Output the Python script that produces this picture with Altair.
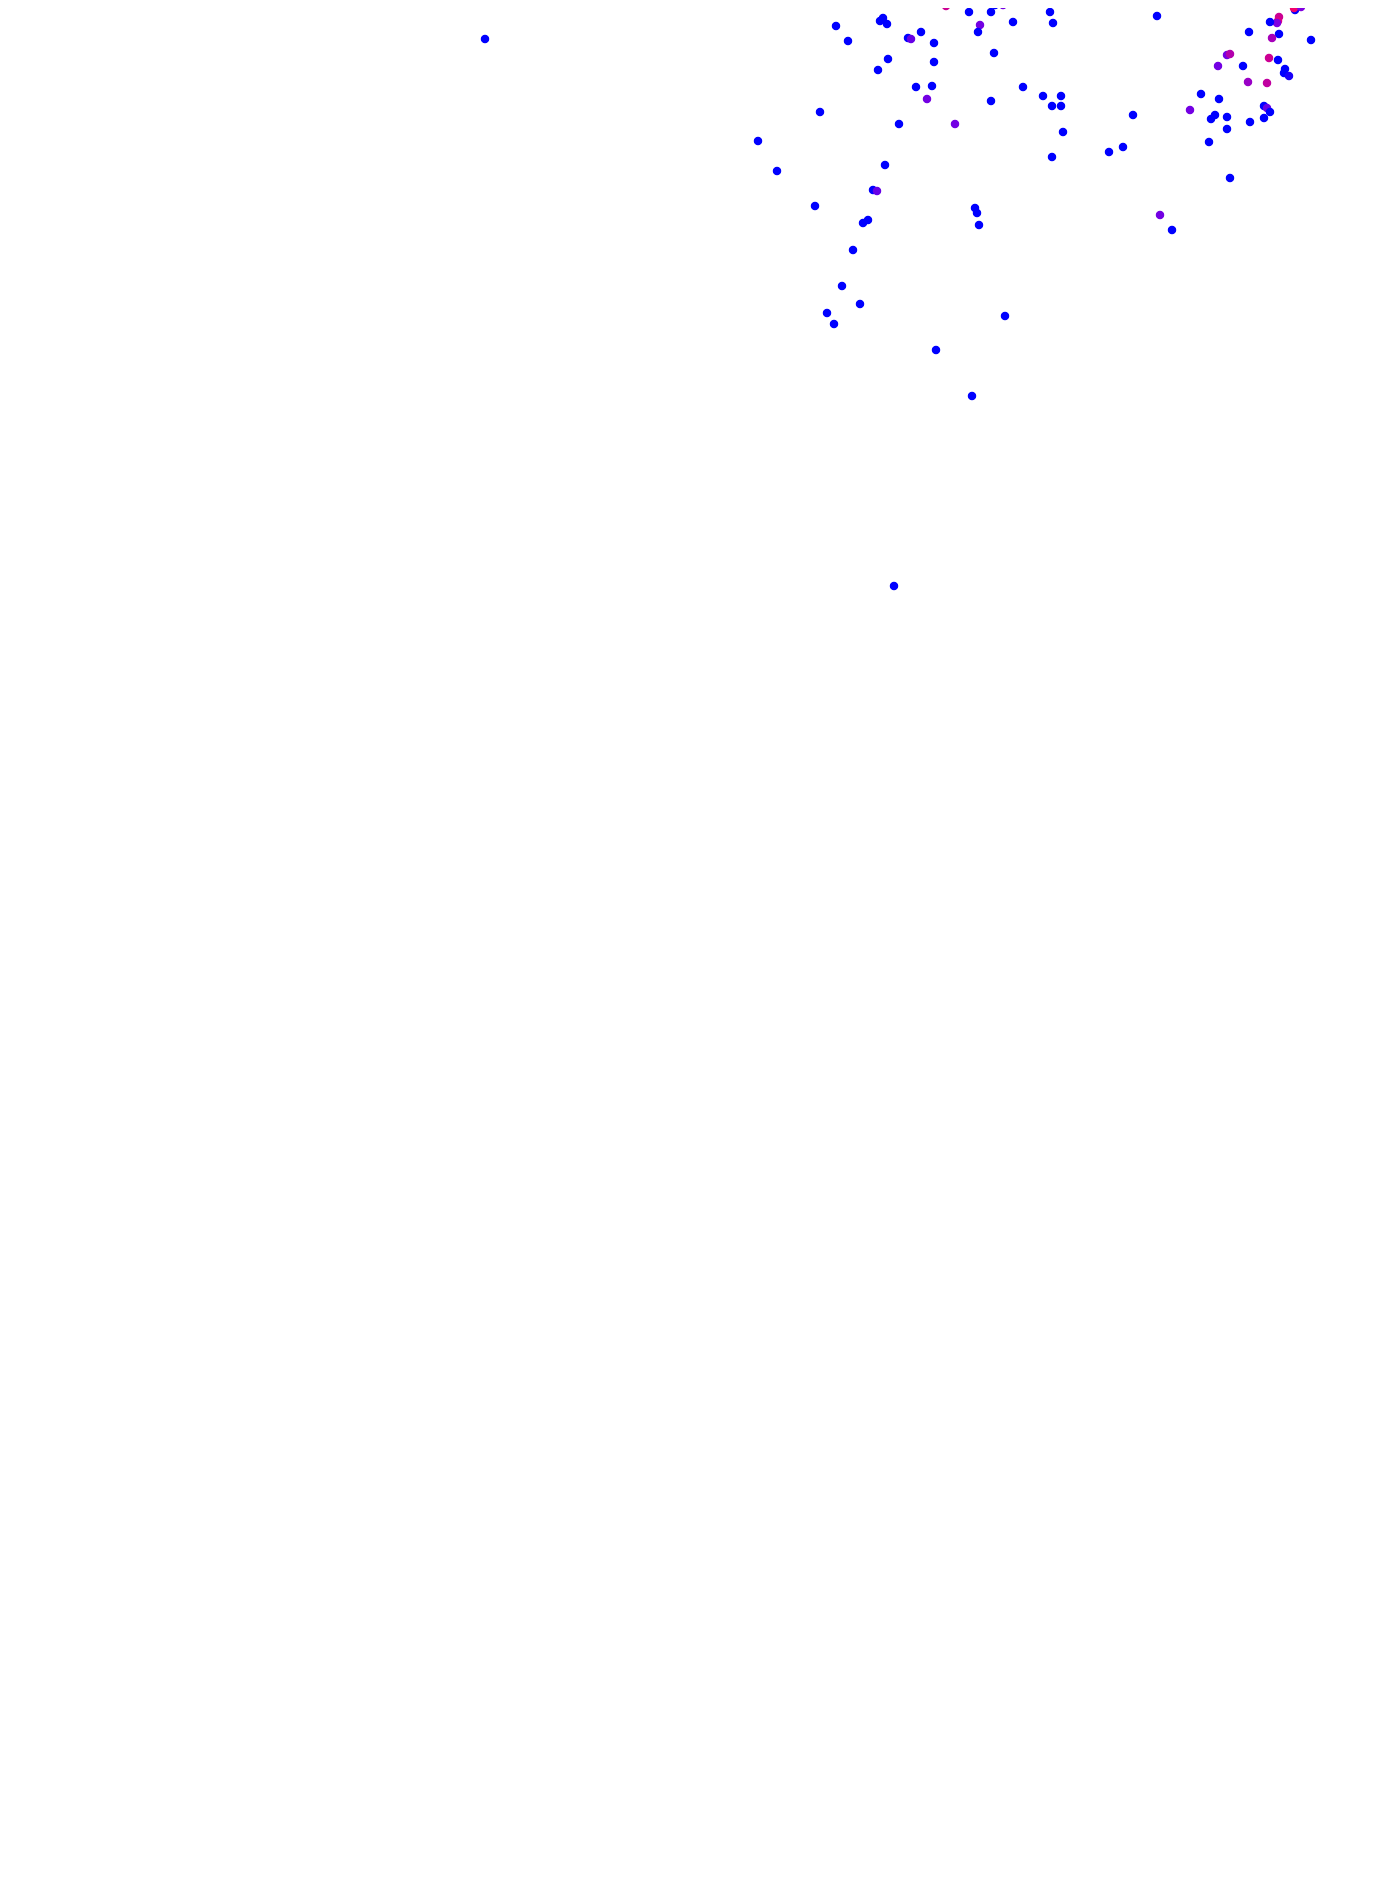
import altair as alt
import pandas as pd

# Point positions (horizontal / vertical coordinate) and colour value
xs = [878, 882, 904, 946, 969, 995, 1003, 991, 980, 978, 1013, 1050, 1053,
      836, 848, 883, 880, 887, 921, 908, 911, 934, 888, 878, 934, 916, 932, 927,
      820, 899, 994, 1023, 1043, 1061, 1052, 1061, 991, 955, 1063, 1157, 1133, 1190,
      1295, 1294, 1301, 1279, 1278, 1277, 1270, 1279, 1249, 1272, 1311, 1227, 1230,
      1269, 1278, 1218, 1243, 1285, 1284, 1289, 1248, 1267, 1201, 1219, 1264, 1267,
      1270, 1215, 1211, 1227, 1250, 1264, 1227, 1209,
      758, 777, 815, 885, 873, 877, 868, 863, 853, 842, 860, 827, 834, 975, 977, 979,
      936, 1005, 972, 1052, 1109, 1123, 1230, 1160, 1172, 894, 485]
ys = [1, 3, 3, 6, 12, 5, 5, 12, 25, 32, 22, 12, 23,
      26, 41, 18, 21, 24, 32, 38, 39, 43, 59, 70, 62, 87, 86, 99,
      112, 124, 53, 87, 96, 96, 106, 106, 101, 124, 132, 16, 115, 110,
      10, 8, 7, 17, 21, 23, 22, 34, 32, 38, 40, 55, 54,
      58, 60, 66, 66, 69, 73, 76, 82, 83, 94, 99, 106, 108,
      112, 115, 119, 117, 122, 118, 129, 142,
      141, 171, 206, 165, 190, 191, 220, 223, 250, 286, 304, 313, 324, 208, 213, 225,
      350, 316, 396, 157, 152, 147, 178, 215, 230, 586, 39]
vals = [0.6, 0, 0, 0.8, 0, 0, 0.45, 0, 0.45, 0, 0, 0, 0,
        0, 0, 0, 0, 0, 0, 0, 0.4, 0, 0, 0, 0, 0, 0, 0.45,
        0, 0, 0, 0, 0, 0, 0, 0, 0, 0.45, 0, 0, 0, 0.45,
        0, 0.95, 0.5, 0.8, 0.85, 0.5, 0, 0, 0, 0.65, 0, 0.45, 0.7,
        0.8, 0, 0.45, 0, 0, 0, 0.1, 0.6, 0.75, 0, 0, 0, 0.4,
        0, 0, 0, 0, 0, 0, 0, 0,
        0, 0, 0, 0, 0, 0.4, 0, 0, 0, 0, 0, 0, 0, 0, 0, 0,
        0, 0, 0, 0, 0, 0, 0, 0.45, 0, 0, 0]

df = pd.DataFrame({"px": xs, "py": ys, "v": vals})

W, H = 1384, 1884

chart = alt.Chart(df).mark_circle(size=72, opacity=1, clip=False).encode(
    x=alt.X("px:Q", axis=None, scale=alt.Scale(domain=[8, 8 + W], nice=False, zero=False)),
    y=alt.Y("py:Q", axis=None, scale=alt.Scale(domain=[8, 8 + H], nice=False, zero=False, reverse=True)),
    color=alt.Color("v:Q", legend=None,
                    scale=alt.Scale(domain=[0, 0.5, 1], range=["#0000ff", "#8000e0", "#ff0060"],
                                    interpolate="rgb")),
).properties(
    width=W, height=H, padding=0, autosize=alt.AutoSizeParams(type="none"), background="white"
).configure_view(strokeWidth=0)

chart.save("out.html", embed_options={"renderer": "svg", "actions": False})
